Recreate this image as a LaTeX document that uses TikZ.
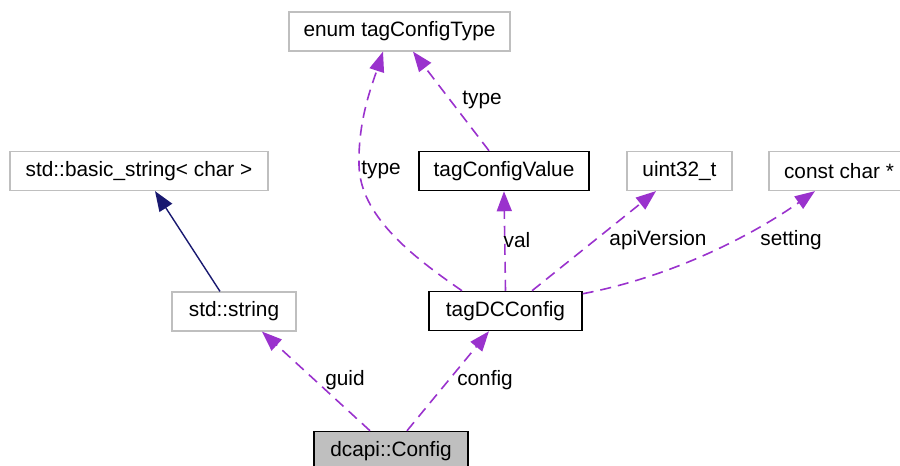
\documentclass[tikz,border=0pt]{standalone}
\usepackage{fontspec}
\setmainfont{Liberation Sans}
\usetikzlibrary{arrows.meta}
\definecolor{edgepurple}{HTML}{9A32CD}
\definecolor{edgenavy}{HTML}{191970}
\definecolor{boxgray}{HTML}{BFBFBF}

\begin{document}
\begin{tikzpicture}[x=0.5pt,y=-0.5pt,
		font=\fontsize{10.4}{12}\selectfont,
		class_style/.style={rectangle,draw=black,line width=0.75pt,minimum height=19.5pt,inner sep=0pt},
		ext_style/.style={rectangle,draw=boxgray,line width=0.6pt,minimum height=19.5pt,inner sep=0pt},
		main_style/.style={class_style,fill=boxgray},
		use_style/.style={draw=edgepurple,line width=0.8pt,dash pattern=on 5.5pt off 3.5pt,-{Triangle[length=10pt,width=7.5pt]}},
		inh_style/.style={draw=edgenavy,line width=0.7pt,-{Triangle[length=10pt,width=7.5pt]}},
		label_style/.style={inner sep=0pt}]

		\useasboundingbox (0,0) rectangle (900,466);

		\node[ext_style,minimum width=110.5pt] (enumtype) at (399.5,31.5) {enum tagConfigType};
		\node[ext_style,minimum width=129pt] (basicstr) at (139,171) {std::basic\_string< char >};
		\node[class_style,minimum width=85pt] (cfgvalue) at (504,171) {tagConfigValue};
		\node[ext_style,minimum width=52.5pt] (uint) at (679.5,171) {uint32\_t};
		\node[ext_style,minimum width=70pt] (cchar) at (839,171) {const char *};
		\node[ext_style,minimum width=62pt] (stdstr) at (234,311.5) {std::string};
		\node[class_style,minimum width=76.5pt] (dccfg) at (505.5,311) {tagDCConfig};
		\node[main_style,minimum width=77pt] (config) at (391,451) {dcapi::Config};

		\draw[inh_style] ([xshift=-7pt]stdstr.north) -- ([xshift=8pt]basicstr.south);
		\draw[use_style] ([xshift=-10.5pt]config.north) -- ([xshift=14pt]stdstr.south)
			node[label_style] (lguid) at (345,380) {guid};
		\draw[use_style] ([xshift=8pt]config.north) -- ([xshift=-8.25pt]dccfg.south)
			node[label_style] (lconfig) at (485,380) {config};
		\draw[use_style] (dccfg.north) -- (cfgvalue.south)
			node[label_style] (lval) at (517,240) {val};
		\draw[use_style] ([xshift=13.25pt]dccfg.north) -- ([xshift=-11.75pt]uint.south)
			node[label_style] (lapi) at (658,240) {apiVersion};
		\draw[use_style] ([yshift=-1.5pt]dccfg.north east) .. controls (680,275) and (760,230) .. ([xshift=-12pt]cchar.south)
			node[label_style] (lsetting) at (791,240) {setting};
		\draw[use_style] ([xshift=-21.75pt]dccfg.north) .. controls (410,255) and (360,215) .. (359,165)
			.. controls (358,120) and (372,85) .. ([xshift=-8.25pt]enumtype.south)
			node[label_style] (ltypea) at (381,170) {type};
		\draw[use_style] ([xshift=-7.5pt]cfgvalue.north) -- ([xshift=6.75pt]enumtype.south)
			node[label_style] (ltypeb) at (482,100) {type};

\end{tikzpicture}
\end{document}
